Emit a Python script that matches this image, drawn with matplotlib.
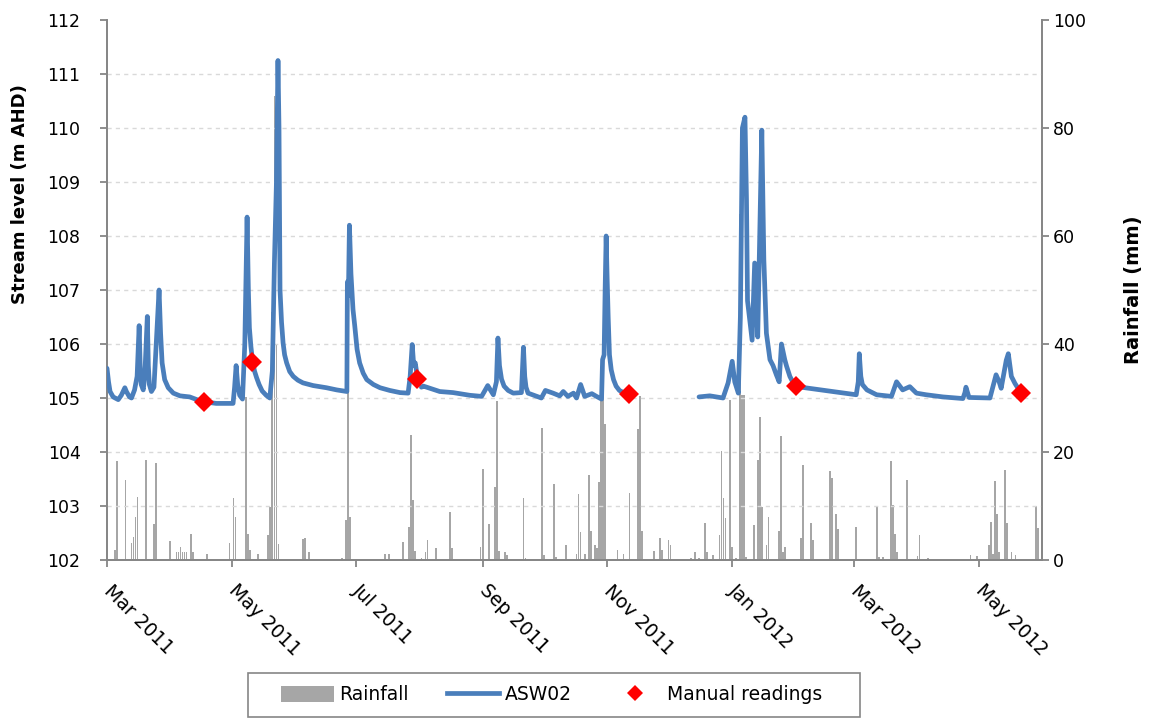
import matplotlib
matplotlib.use("Agg")
import matplotlib.pyplot as plt
import matplotlib.dates as mdates
from matplotlib.lines import Line2D
from matplotlib.patches import Patch, Rectangle
import numpy as np
import pandas as pd

# ---------------------------------------------------------------- data
# Logged stream level at gauge ASW02 (m AHD); NaN marks logger gaps
level_time = [
    "2011-03-01 00:00", "2011-03-01 18:00", "2011-03-02 12:00", "2011-03-04 00:00",
    "2011-03-06 12:00", "2011-03-08 00:00", "2011-03-09 18:00", "2011-03-10 12:00",
    "2011-03-12 00:00", "2011-03-13 00:00", "2011-03-14 12:00", "2011-03-15 18:00",
    "2011-03-16 18:00", "2011-03-17 06:00", "2011-03-17 18:00", "2011-03-18 18:00",
    "2011-03-19 12:00", "2011-03-20 18:00", "2011-03-21 06:00", "2011-03-21 18:00",
    "2011-03-22 18:00", "2011-03-24 00:00", "2011-03-25 12:00", "2011-03-26 12:00",
    "2011-03-27 06:00", "2011-03-28 00:00", "2011-03-29 06:00", "2011-03-31 00:00",
    "2011-04-02 12:00", "2011-04-05 18:00", "2011-04-10 12:00", "2011-04-14 00:00",
    "2011-04-17 12:00", "2011-04-23 12:00", "2011-05-01 18:00", "2011-05-02 12:00",
    "2011-05-03 06:00", "2011-05-04 00:00", "2011-05-05 00:00", "2011-05-06 09:00",
    "2011-05-07 12:00", "2011-05-08 15:00", "2011-05-09 06:00", "2011-05-09 18:00",
    "2011-05-10 12:00", "2011-05-11 06:00", "2011-05-12 06:00", "2011-05-13 06:00",
    "2011-05-14 12:00", "2011-05-16 00:00", "2011-05-18 00:00", "2011-05-19 18:00",
    "2011-05-21 00:00", "2011-05-22 00:00", "2011-05-23 00:00", "2011-05-23 18:00",
    "2011-05-24 06:00", "2011-05-24 18:00", "2011-05-25 12:00", "2011-05-26 06:00",
    "2011-05-27 00:00", "2011-05-28 00:00", "2011-05-29 12:00", "2011-05-31 06:00",
    "2011-06-02 12:00", "2011-06-05 00:00", "2011-06-10 00:00", "2011-06-16 12:00",
    "2011-06-21 12:00", "2011-06-26 12:00", "2011-06-26 18:00", "2011-06-27 06:00",
    "2011-06-27 18:00", "2011-06-28 12:00", "2011-06-29 12:00", "2011-06-30 09:00",
    "2011-07-01 12:00", "2011-07-02 18:00", "2011-07-04 12:00", "2011-07-06 06:00",
    "2011-07-09 12:00", "2011-07-12 18:00", "2011-07-17 12:00", "2011-07-22 12:00",
    "2011-07-26 12:00", "2011-07-27 12:00", "2011-07-28 12:00", "2011-07-29 06:00",
    "2011-07-30 00:00", "2011-07-31 00:00", "2011-07-31 12:00", "2011-08-02 00:00",
    "2011-08-03 00:00", "2011-08-11 00:00", "2011-08-17 12:00", "2011-08-25 18:00",
    "2011-08-31 12:00", "2011-09-03 12:00", "2011-09-06 06:00", "2011-09-07 18:00",
    "2011-09-08 12:00", "2011-09-09 06:00", "2011-09-10 06:00", "2011-09-11 12:00",
    "2011-09-13 12:00", "2011-09-16 00:00", "2011-09-20 00:00", "2011-09-21 00:00",
    "2011-09-21 15:00", "2011-09-22 06:00", "2011-09-23 06:00", "2011-09-29 18:00",
    "2011-10-01 18:00", "2011-10-05 12:00", "2011-10-08 18:00", "2011-10-10 12:00",
    "2011-10-12 18:00", "2011-10-15 12:00", "2011-10-17 00:00", "2011-10-19 00:00",
    "2011-10-21 00:00", "2011-10-24 12:00", "2011-10-26 18:00", "2011-10-29 06:00",
    "2011-10-29 18:00", "2011-10-30 12:00", "2011-10-31 00:00", "2011-10-31 12:00",
    "2011-11-01 00:00", "2011-11-01 12:00", "2011-11-02 03:00", "2011-11-03 00:00",
    "2011-11-04 03:00", "2011-11-05 09:00", "2011-11-07 00:00", "2011-11-09 00:00",
    "2011-11-10 12:00", "2011-11-11 00:00", "2011-12-16 00:00", "2011-12-21 06:00",
    "2011-12-27 18:00", "2011-12-30 06:00", "2012-01-01 06:00", "2012-01-02 12:00",
    "2012-01-04 06:00", "2012-01-05 06:00", "2012-01-06 06:00", "2012-01-07 12:00",
    "2012-01-08 06:00", "2012-01-08 18:00", "2012-01-11 00:00", "2012-01-12 06:00",
    "2012-01-13 18:00", "2012-01-15 18:00", "2012-01-16 18:00", "2012-01-18 00:00",
    "2012-01-19 18:00", "2012-01-21 06:00", "2012-01-22 21:00", "2012-01-24 06:00",
    "2012-01-25 09:00", "2012-01-27 00:00", "2012-01-27 21:00", "2012-01-29 12:00",
    "2012-01-31 03:00", "2012-02-01 12:00", "2012-02-04 00:00", "2012-03-02 00:00",
    "2012-03-03 00:00", "2012-03-03 12:00", "2012-03-04 06:00", "2012-03-05 00:00",
    "2012-03-07 06:00", "2012-03-12 00:00", "2012-03-19 06:00", "2012-03-21 18:00",
    "2012-03-24 18:00", "2012-03-28 06:00", "2012-03-31 12:00", "2012-04-05 06:00",
    "2012-04-13 12:00", "2012-04-23 06:00", "2012-04-24 06:00", "2012-04-24 18:00",
    "2012-04-26 06:00", "2012-05-06 12:00", "2012-05-09 12:00", "2012-05-11 00:00",
    "2012-05-12 00:00", "2012-05-14 12:00", "2012-05-15 12:00", "2012-05-17 00:00",
    "2012-05-18 18:00", "2012-05-21 18:00",
]
level_m = [
    105.55, 105.30, 105.12, 105.02,
    104.97, 105.05, 105.19, 105.12,
    105.02, 105.00, 105.15, 105.40,
    106.34, 105.60, 105.25, 105.15,
    105.40, 106.51, 105.60, 105.25,
    105.12, 105.20, 106.30, 107.00,
    106.20, 105.65, 105.34, 105.19,
    105.09, 105.04, 105.02, 104.97,
    104.93, 104.90, 104.90, 105.20,
    105.60, 105.25, 105.05, 104.98,
    106.00, 108.35, 107.00, 106.30,
    105.95, 105.70, 105.50, 105.38,
    105.25, 105.13, 105.05, 105.00,
    105.50, 107.50, 109.00, 111.25,
    110.00, 107.00, 106.40, 106.02,
    105.80, 105.65, 105.49, 105.40,
    105.33, 105.28, 105.23, 105.19,
    105.15, 105.12, 107.15, 106.90,
    108.20, 107.30, 106.64, 106.33,
    105.90, 105.65, 105.46, 105.34,
    105.25, 105.19, 105.14, 105.10,
    105.09, 105.40, 105.99, 105.60,
    105.65, 105.40, np.nan, 105.20,
    105.22, 105.12, 105.10, 105.05,
    105.03, 105.23, 105.06, 105.30,
    106.11, 105.60, 105.35, 105.22,
    105.14, 105.09, 105.10, 105.94,
    105.40, 105.20, 105.09, 105.00,
    105.14, 105.09, 105.04, 105.12,
    105.03, 105.09, 105.00, 105.25,
    105.03, 105.08, 105.03, 104.98,
    105.71, 105.80, 107.00, 108.00,
    107.20, 106.50, 105.80, 105.52,
    105.34, 105.22, 105.14, 105.10,
    105.08, np.nan, 105.02, 105.04,
    105.00, 105.28, 105.68, 105.30,
    105.09, 106.50, 110.00, 110.20,
    108.67, 106.80, 106.07, 107.50,
    106.13, 109.96, 107.56, 106.20,
    105.71, 105.60, 105.43, 105.30,
    106.00, 105.71, 105.59, 105.40,
    105.28, 105.22, 105.20, 105.06,
    105.30, 105.82, 105.40, 105.25,
    105.15, 105.06, 105.03, 105.30,
    105.15, 105.21, 105.09, 105.06,
    105.02, 104.99, 105.10, 105.20,
    105.01, 105.00, 105.43, 105.30,
    105.18, 105.70, 105.82, 105.40,
    105.27, 105.09,
]

# Manual gauge-board readings (m AHD)
manual_time = ["2011-04-17 12:00", "2011-05-11 06:00", "2011-07-31 00:00",
               "2011-11-11 18:00", "2012-02-01 12:00", "2012-05-21 18:00"]
manual_m = [104.93, 105.66, 105.36, 105.07, 105.22, 105.09]

# Daily rainfall (mm); days not listed had no rain
rain_day = [
    "2011-03-05", "2011-03-06", "2011-03-10", "2011-03-13", "2011-03-14", "2011-03-15",
    "2011-03-16", "2011-03-20", "2011-03-24", "2011-03-25", "2011-04-01", "2011-04-04",
    "2011-04-05", "2011-04-06", "2011-04-07", "2011-04-08", "2011-04-09", "2011-04-11",
    "2011-04-12", "2011-04-19", "2011-04-30", "2011-05-02", "2011-05-03", "2011-05-08",
    "2011-05-09", "2011-05-10", "2011-05-14", "2011-05-19", "2011-05-20", "2011-05-21",
    "2011-05-22", "2011-05-23", "2011-05-24", "2011-06-05", "2011-06-06", "2011-06-08",
    "2011-06-24", "2011-06-26", "2011-06-27", "2011-06-28", "2011-07-15", "2011-07-17",
    "2011-07-24", "2011-07-27", "2011-07-28", "2011-07-29", "2011-07-30", "2011-08-02",
    "2011-08-04", "2011-08-05", "2011-08-09", "2011-08-16", "2011-08-17", "2011-08-31",
    "2011-09-01", "2011-09-04", "2011-09-07", "2011-09-08", "2011-09-09", "2011-09-12",
    "2011-09-13", "2011-09-21", "2011-09-22", "2011-09-30", "2011-10-01", "2011-10-06",
    "2011-10-07", "2011-10-12", "2011-10-17", "2011-10-18", "2011-10-19", "2011-10-21",
    "2011-10-23", "2011-10-24", "2011-10-26", "2011-10-27", "2011-10-28", "2011-10-29",
    "2011-10-30", "2011-10-31", "2011-11-06", "2011-11-09", "2011-11-12", "2011-11-16",
    "2011-11-17", "2011-11-18", "2011-11-24", "2011-11-27", "2011-11-28", "2011-12-01",
    "2011-12-02", "2011-12-12", "2011-12-14", "2011-12-16", "2011-12-19", "2011-12-20",
    "2011-12-23", "2011-12-26", "2011-12-27", "2011-12-28", "2011-12-29", "2011-12-31",
    "2012-01-01", "2012-01-03", "2012-01-05", "2012-01-06", "2012-01-07", "2012-01-08",
    "2012-01-12", "2012-01-14", "2012-01-15", "2012-01-16", "2012-01-18", "2012-01-19",
    "2012-01-24", "2012-01-25", "2012-01-26", "2012-01-27", "2012-02-04", "2012-02-05",
    "2012-02-09", "2012-02-10", "2012-02-18", "2012-02-19", "2012-02-21", "2012-02-22",
    "2012-03-02", "2012-03-12", "2012-03-13", "2012-03-15", "2012-03-19", "2012-03-20",
    "2012-03-21", "2012-03-22", "2012-03-27", "2012-04-01", "2012-04-02", "2012-04-06",
    "2012-04-27", "2012-04-30", "2012-05-06", "2012-05-07", "2012-05-08", "2012-05-09",
    "2012-05-10", "2012-05-11", "2012-05-14", "2012-05-15", "2012-05-17", "2012-05-19",
    "2012-05-29", "2012-05-30",
]
rain_mm = [
    1.9, 18.3, 14.9, 3.1, 4.2, 8.0,
    11.7, 18.6, 6.7, 17.9, 3.6, 1.4,
    1.5, 2.4, 1.5, 1.4, 1.5, 4.8,
    1.5, 1.1, 3.1, 11.4, 8.0, 30.2,
    4.9, 1.9, 1.1, 4.6, 9.9, 46.0,
    86.0, 40.0, 3.0, 3.8, 4.0, 1.5,
    0.3, 7.4, 50.0, 8.0, 1.2, 1.1,
    3.3, 6.2, 23.1, 11.1, 1.7, 0.3,
    1.5, 3.7, 2.2, 8.9, 2.2, 2.5,
    16.9, 6.7, 13.5, 29.5, 1.7, 1.4,
    0.9, 11.4, 0.3, 24.5, 1.0, 14.1,
    0.5, 2.7, 1.2, 12.3, 5.2, 1.2,
    15.7, 5.4, 2.8, 2.2, 14.5, 29.8,
    33.0, 25.2, 1.9, 1.1, 12.5, 24.3,
    30.3, 5.4, 1.7, 4.1, 1.9, 3.7,
    2.8, 0.3, 1.5, 0.3, 6.8, 1.5,
    0.9, 4.6, 20.2, 11.4, 7.7, 29.6,
    2.5, 0.3, 64.0, 30.5, 30.5, 0.6,
    6.5, 18.6, 26.5, 9.9, 2.8, 7.9,
    5.3, 23.0, 1.5, 2.5, 4.0, 17.6,
    6.8, 3.7, 16.4, 15.1, 8.5, 5.7,
    6.2, 10.0, 0.6, 0.5, 18.4, 10.2,
    4.8, 1.5, 14.8, 0.8, 4.6, 0.3,
    0.9, 0.7, 2.8, 7.0, 1.1, 14.6,
    8.5, 1.5, 16.7, 6.8, 1.4, 0.9,
    10.0, 5.9,
]

x_start, x_end = "2011-03-01", "2012-06-01"

# --------------------------------------------------------------- style
BLUE = "#4A7EBB"
GREY_BAR = "#A6A6A6"
AXIS_GREY = "#868686"
GRID_GREY = "#D9D9D9"
plt.rcParams["font.family"] = ["DejaVu Sans"]

fig = plt.figure(figsize=(11.5, 7.18), dpi=100)
W, H = 1150, 718
ax = fig.add_axes([107 / W, 1 - 560 / H, (1042 - 107) / W, (560 - 20) / H])
ax2 = ax.twinx()

# Rainfall bars on the secondary axis, stream level drawn above them
rain_t = pd.to_datetime(rain_day)
ax2.bar(rain_t, rain_mm, width=0.85, color=GREY_BAR, linewidth=0, zorder=1)
ax.set_zorder(ax2.get_zorder() + 1)
ax.patch.set_visible(False)

lvl_t = pd.to_datetime(level_time)
ax.plot(lvl_t, level_m, color=BLUE, lw=3.4, solid_capstyle="round",
        solid_joinstyle="round", zorder=3)
ax.plot(pd.to_datetime(manual_time), manual_m, linestyle="none", marker="D",
        markersize=10, color="#FF0000", markeredgewidth=0, zorder=4)

# Axes ranges and ticks
ax.set_xlim(pd.Timestamp(x_start), pd.Timestamp(x_end))
ax.set_ylim(102, 112)
ax.set_yticks(np.arange(102, 113, 1))
ax2.set_ylim(0, 100)
ax2.set_yticks(np.arange(0, 101, 20))

ax.xaxis.set_major_locator(mdates.MonthLocator(bymonth=[1, 3, 5, 7, 9, 11]))
ax.xaxis.set_major_formatter(mdates.DateFormatter("%b %Y"))

for a in (ax, ax2):
    a.spines["top"].set_visible(False)
    for side in ("left", "right", "bottom"):
        a.spines[side].set_color(AXIS_GREY)
        a.spines[side].set_linewidth(1.3)

ax.tick_params(axis="y", direction="out", length=5, width=1.3, color=AXIS_GREY,
               labelsize=12.5, pad=14)
ax.tick_params(axis="x", direction="out", length=5, width=1.3, color=AXIS_GREY,
               labelsize=13.5, pad=15)
ax2.tick_params(axis="y", direction="out", length=5, width=1.3, color=AXIS_GREY,
                labelsize=12.5, pad=3)

for lbl in ax.get_xticklabels():
    lbl.set_rotation(-45)
    lbl.set_ha("left")
    lbl.set_va("center")
    lbl.set_rotation_mode("anchor")

# Dashed horizontal gridlines at each metre
for lv in range(103, 112):
    ax.axhline(lv, color=GRID_GREY, lw=1.0, linestyle=(0, (3, 3)), zorder=0)

# Axis titles
fig.text(20 / W, 1 - 194 / H, "Stream level (m AHD)", rotation=90, fontsize=13,
         fontweight="bold", ha="center", va="center")
fig.text(1133 / W, 1 - 290 / H, "Rainfall (mm)", rotation=90, fontsize=14,
         fontweight="bold", ha="center", va="center")

# Legend inside a plain box below the plot
fig.patches.append(Rectangle((248 / W, 1 - 717 / H), (860 - 248) / W, (717 - 673) / H,
                             transform=fig.transFigure, fill=False,
                             edgecolor=AXIS_GREY, lw=1.2))
handles = [
    Patch(facecolor=GREY_BAR, edgecolor="none"),
    Line2D([], [], color=BLUE, lw=3.4),
    Line2D([], [], linestyle="none", marker="D", markersize=8, color="#FF0000",
           markeredgewidth=0),
]
fig.legend(handles, ["Rainfall", "ASW02", "Manual readings"], loc="center",
           bbox_to_anchor=(552 / W, 1 - 695 / H), ncol=3, frameon=False,
           fontsize=13.5, handlelength=2.8, handleheight=0.9, handletextpad=0.3,
           columnspacing=2.0)

fig.savefig("out.png", dpi=100)
